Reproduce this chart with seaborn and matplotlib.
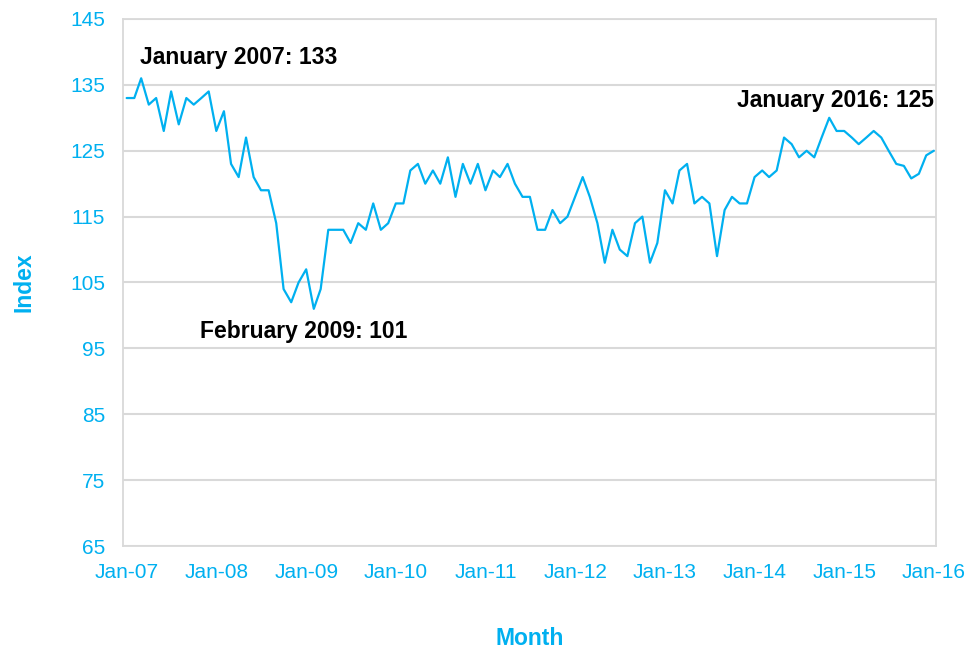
import matplotlib
matplotlib.use("Agg")
import matplotlib.pyplot as plt
import matplotlib.dates as mdates
import pandas as pd
import seaborn as sns

# monthly index values, Jan 2007 .. Jan 2016
values_2007 = [133, 133, 136, 132, 133, 128, 134, 129, 133, 132, 133, 134]
values_2008 = [128, 131, 123, 121, 127, 121, 119, 119, 114, 104, 102, 105]
values_2009 = [107, 101, 104, 113, 113, 113, 111, 114, 113, 117, 113, 114]
values_2010 = [117, 117, 122, 123, 120, 122, 120, 124, 118, 123, 120, 123]
values_2011 = [119, 122, 121, 123, 120, 118, 118, 113, 113, 116, 114, 115]
values_2012 = [118, 121, 118, 114, 108, 113, 110, 109, 114, 115, 108, 111]
values_2013 = [119, 117, 122, 123, 117, 118, 117, 109, 116, 118, 117, 117]
values_2014 = [121, 122, 121, 122, 127, 126, 124, 125, 124, 127, 130, 128]
values_2015 = [128, 127, 126, 127, 128, 127, 125, 123, 122.7, 120.8, 121.5, 124.3]
values_2016 = [125]

index_values = (values_2007 + values_2008 + values_2009 + values_2010 + values_2011
                + values_2012 + values_2013 + values_2014 + values_2015 + values_2016)
months = pd.date_range("2007-01-01", periods=len(index_values), freq="MS")

y_ticks = [65, 75, 85, 95, 105, 115, 125, 135, 145]

callouts = [
    ("January 2007: 133", "2007-02-24", 139.1, "left"),
    ("February 2009: 101", "2007-10-26", 97.6, "left"),
    ("January 2016: 125", "2016-01-01", 132.6, "right"),
]

BLUE = "#00B0F0"
GRID = "#D9D9D9"

sns.set_theme(style="white")
plt.rcParams["font.family"] = ["Liberation Sans", "DejaVu Sans"]

df = pd.DataFrame({"month": months, "index": index_values})

fig, ax = plt.subplots(figsize=(9.7, 6.5), dpi=100)
fig.subplots_adjust(left=0.1268, right=0.965, top=0.9708, bottom=0.16)

sns.lineplot(data=df, x="month", y="index", ax=ax, color=BLUE, linewidth=1.6)

ax.set_ylim(65, 145)
ax.set_yticks(y_ticks)
ax.set_xlim(pd.Timestamp("2006-12-17"), pd.Timestamp("2016-01-10"))
ax.xaxis.set_major_locator(mdates.YearLocator())
ax.xaxis.set_major_formatter(mdates.DateFormatter("%b-%y"))

ax.grid(axis="y", color=GRID, linewidth=1.5)
ax.grid(axis="x", visible=False)
for sp in ax.spines.values():
    sp.set_color(GRID)
    sp.set_linewidth(1.3)

ax.tick_params(axis="both", length=0, labelsize=15, labelcolor=BLUE)
ax.tick_params(axis="y", pad=13)
ax.tick_params(axis="x", pad=12)

ax.set_xlabel("Month", fontsize=16.5, fontweight="bold", color=BLUE, va="center")
ax.set_ylabel("Index", fontsize=16.5, fontweight="bold", color=BLUE, va="center")
ax.xaxis.set_label_coords(0.5, -0.175)
ax.yaxis.set_label_coords(-0.122, 0.5)

for label, when, yv, ha in callouts:
    ax.text(pd.Timestamp(when), yv, label, fontsize=16.5, fontweight="bold",
            color="black", ha=ha, va="center")

fig.savefig("out.png", dpi=100)
